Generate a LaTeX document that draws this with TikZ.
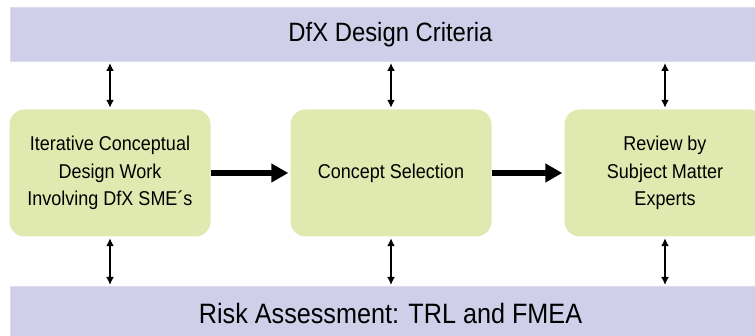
\documentclass[tikz,border=0pt]{standalone}
\usepackage{fontspec}
\setmainfont{Liberation Sans}[FakeStretch=0.9]
\usetikzlibrary{arrows.meta}
\definecolor{barfill}{HTML}{CFCFEA}
\definecolor{barline}{HTML}{DCDCEE}
\definecolor{boxfill}{HTML}{E0EAB0}
\tikzset{
  bar/.style={draw=barline, line width=1pt, fill=barfill, minimum width=760pt, minimum height=54pt, inner sep=0pt, anchor=north west},
  stagebox/.style={fill=boxfill, rounded corners=15pt, minimum width=201pt, minimum height=127pt, align=center, inner sep=0pt, font=\fontsize{20}{27.5}\selectfont},
  vlink/.style={line width=2pt, {Latex[length=8pt,width=8pt]}-{Latex[length=8pt,width=8pt]}, shorten <=1pt, shorten >=1.5pt},
  hlink/.style={line width=5.5pt, -{Triangle[length=17pt,width=18pt]}, shorten >=2pt}
}
\begin{document}
\begin{tikzpicture}[x=1pt,y=-1pt]
\clip (0,0) rectangle (755,336);
\useasboundingbox (0,0) rectangle (755,336);
\node[bar, font=\fontsize{26.5}{30}\selectfont] (top) at (10,7) {DfX Design Criteria};
\node[bar, font=\fontsize{28}{32}\selectfont] (bottom) at (10,286) {Risk Assessment: TRL and FMEA};
\node[stagebox] (b1) at (110,173) {Iterative Conceptual\\Design Work\\Involving DfX SME´s};
\node[stagebox] (b2) at (391,173) {Concept Selection};
\node[stagebox] (b3) at (665,173) {Review by\\Subject Matter\\Experts};
\foreach \b in {b1,b2,b3}{
  \draw[vlink] (top.south -| \b) -- (\b.north);
  \draw[vlink] (bottom.north -| \b) -- (\b.south);
}
\draw[hlink] (b1) -- (b2);
\draw[hlink] (b2) -- (b3);
\end{tikzpicture}
\end{document}
